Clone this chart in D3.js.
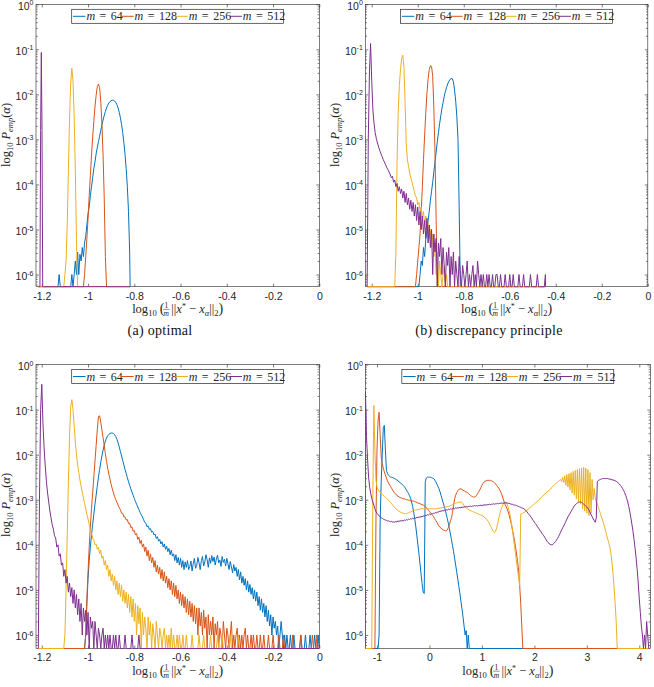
<!DOCTYPE html>
<html>
<head>
<meta charset="utf-8">
<script src="https://cdn.jsdelivr.net/npm/d3@7"></script>
<style>
  body { margin: 0; background: #fff; }
  svg { display: block; }
</style>
</head>
<body>
<svg id="fig" width="654" height="687"></svg>
<script>
// MATLAB default line colours, one per m
const colors = ["#0072BD", "#D95319", "#EDB120", "#7E2F8E"];
const mValues = ["64", "128", "256", "512"];
const xTicksNarrow = [-1.2, -1, -0.8, -0.6, -0.4, -0.2, 0];
const xTicksWide = [-1, 0, 1, 2, 3, 4];
const yExponents = [-6, -5, -4, -3, -2, -1, 0];
const captions = ["(a) optimal", "(b) discrepancy principle"];

// histograms: first bin x0, bin width dx, log10 P per bin (null = empty bin)
// (a) optimal
const a64 = {x0: -1.13, dx: 0.005, v: [null,-6.0,null,null,null,null,null,null,null,null,null,null,-6.0,null,-6.0,-5.7,-6.0,-5.5,-6.0,-5.55,-5.7,-5.4,-5.6,-5.3,-5.15,-4.9,-4.65,-4.5,-4.25,-4.05,-3.85,-3.65,-3.5,-3.32,-3.18,-3.05,-2.93,-2.8,-2.68,-2.57,-2.47,-2.38,-2.3,-2.24,-2.19,-2.16,-2.14,-2.13,-2.13,-2.15,-2.18,-2.23,-2.3,-2.4,-2.52,-2.67,-2.85,-3.07,-3.33,-3.65,-4.05,-4.6,-5.5]};
const a128 = {x0: -1.015, dx: 0.005, v: [-6.0,-5.6,-5.2,-4.75,-4.25,-3.8,-3.35,-2.95,-2.6,-2.28,-2.02,-1.83,-1.77,-1.85,-2.15,-2.65,-3.35,-4.3,-5.6]};
const a256 = {x0: -1.1, dx: 0.005, v: [-6.0,-5.7,-4.9,-3.7,-2.55,-1.75,-1.42,-1.7,-2.5,-3.7,-5.2]};
const a512 = {x0: -1.208, dx: 0.003, v: [null,-2.8,-1.07,-2.8,null]};

// (b) discrepancy principle
const b64 = {x0: -0.99, dx: 0.005, v: [-6.0,-5.7,-5.8,-5.4,-5.6,-5.2,-5.05,-4.8,-4.6,-4.35,-4.15,-3.95,-3.72,-3.5,-3.28,-3.05,-2.85,-2.65,-2.48,-2.32,-2.18,-2.05,-1.94,-1.85,-1.77,-1.71,-1.67,-1.65,-1.65,-1.72,-1.9,-2.15,-2.5,-3.0,-4.5]};
const b128 = {x0: -1.005, dx: 0.005, v: [-6.0,-5.7,-5.4,-5.1,-4.6,-4.05,-3.45,-2.9,-2.4,-1.98,-1.65,-1.45,-1.36,-1.38,-1.6,-2.3,-3.3,-4.8]};
const b256 = {x0: -1.1, dx: 0.005, v: [null,-5.5,-3.5,-2.4,-1.8,-1.45,-1.2,-1.13,-1.4,-2.2,-3.1,-3.45,-3.6,-3.75,-3.85,-3.95,-4.05,-4.15,-4.25,-4.3,-4.45,-4.4,-4.6,-4.5,-4.75,-4.6,-4.9,-4.7,-5.0,-4.85,-5.2,-5.0,-5.4,-5.1,-5.6,-5.3,-6.0,-5.5,null,-5.7,-6.0,null,-6.0,-5.8,null,-6.0]};
const b512 = {x0: -1.215, dx: 0.005, v: [-3.0,-1.5,-0.87,-1.7,-2.35,-2.65,-2.85,-2.98,-3.08,-3.17,
  -3.25,-3.32,-3.38,-3.45,-3.5,-3.56,-3.62,-3.67,-3.72,-3.77,
  -3.85,-3.82,-3.95,-3.9,-4.05,-3.98,-4.15,-4.05,-4.2,-4.1,
  -4.3,-4.15,-4.4,-4.2,-4.45,-4.3,-4.55,-4.35,-4.6,-4.4,
  -4.7,-4.45,-4.8,-4.5,-4.9,-4.6,-5.0,-4.7,-5.1,-4.8,
  -5.2,-4.75,-5.3,-4.9,-5.4,-5.0,-6.0,-5.1,-5.5,-5.2,
  null,-5.3,-5.6,-5.2,-6.0,-5.4,-5.8,null,-5.5,-5.8,
  -5.4,null,-5.6,-6.0,-5.5,null,-5.7,-6.0,null,-5.6,
  -6.0,null,-5.8,-6.0,null,-6.0,-5.7,null,-6.0,null,
  -6.0,-5.8,null,-6.0,null,-5.7,-6.0,null,-6.0,null,
  -6.0,null,null,-6.0,null,-6.0,null,null,-6.0,null,
  null,-6.0,-6.0,null,null,-6.0,null,null,null,-6.0,
  null,null,null,-6.0,null,null,-6.0,null,null,null,
  null,-6.0,null,null,null,-6.0,null,null,null,null,
  null,-6.0,null,null,null,null,null,-6.0,null,null,
  null,null,null,null,-6.0]};

// (c)
const c64 = {x0: -1.01, dx: 0.005, v: [-6.0,-5.3,-4.75,-4.35,-4.05,-3.78,-3.55,-3.32,-3.1,-2.9,
  -2.7,-2.5,-2.33,-2.17,-2.03,-1.9,-1.79,-1.7,-1.63,-1.58,
  -1.55,-1.53,-1.52,-1.52,-1.53,-1.56,-1.6,-1.66,-1.74,-1.83,
  -1.93,-2.03,-2.13,-2.23,-2.33,-2.42,-2.51,-2.6,-2.68,-2.76,
  -2.83,-2.9,-2.97,-3.04,-3.1,-3.16,-3.22,-3.28,-3.33,-3.38,
  -3.44,-3.5,-3.52,-3.6,-3.58,-3.66,-3.64,-3.72,-3.7,-3.78,
  -3.76,-3.86,-3.82,-3.92,-3.88,-3.98,-3.93,-4.05,-3.98,-4.1,
  -4.03,-4.15,-4.08,-4.22,-4.12,-4.25,-4.2,-4.35,-4.22,-4.4,
  -4.28,-4.45,-4.3,-4.5,-4.35,-4.55,-4.38,-4.5,-4.35,-4.55,
  -4.48,-4.36,-4.58,-4.41,-4.3,-4.52,-4.46,-4.28,-4.4,-4.55,
  -4.35,-4.26,-4.47,-4.38,-4.22,-4.33,-4.5,-4.29,-4.41,-4.24,
  -4.37,-4.27,-4.45,-4.31,-4.23,-4.4,-4.34,-4.48,-4.26,-4.39,
  -4.32,-4.47,-4.3,-4.42,-4.55,-4.37,-4.49,-4.62,-4.44,-4.58,
  -4.5,-4.7,-4.55,-4.78,-4.6,-4.85,-4.7,-4.9,-4.75,-5.0,
  -4.8,-5.05,-4.88,-5.1,-4.95,-5.2,-5.0,-5.25,-5.05,-5.35,
  -5.15,-5.45,-5.2,-5.5,-5.3,-5.6,-5.35,-5.7,-5.45,-5.8,
  -5.55,-6.0,-5.6,-5.85,-5.7,-6.0,-5.8,null,-6.0,-5.7,
  -6.0,null,-6.0,null,-6.0,null,null,-6.0,null,null,
  -6.0,null,null,null,null,null,-6.0,null,null,null,
  -6.0,null,null,null,-6.0,null,null,null,-6.0,null,
  null,-6.0]};
const c128 = {x0: -1.01, dx: 0.005, v: [-6.0,-5.2,-4.6,-4.05,-3.6,-3.2,-2.85,-2.5,-2.15,-1.8,
  -1.45,-1.15,-1.14,-1.28,-1.45,-1.62,-1.8,-1.98,-2.15,-2.3,
  -2.43,-2.55,-2.66,-2.76,-2.85,-2.93,-3.0,-3.06,-3.12,-3.18,
  -3.22,-3.3,-3.3,-3.38,-3.38,-3.45,-3.44,-3.53,-3.52,-3.62,
  -3.6,-3.7,-3.68,-3.78,-3.75,-3.88,-3.83,-3.97,-3.9,-4.05,
  -3.98,-4.15,-4.05,-4.25,-4.12,-4.35,-4.2,-4.4,-4.28,-4.5,
  -4.35,-4.6,-4.45,-4.65,-4.5,-4.75,-4.55,-4.8,-4.6,-4.85,
  -4.7,-4.95,-4.75,-5.0,-4.8,-5.1,-4.85,-5.15,-4.9,-5.2,
  -5.0,-5.3,-5.05,-5.35,-5.1,-5.4,-5.15,-5.5,-5.2,-5.55,
  -5.25,-5.6,-5.3,-5.7,-5.35,-5.75,-5.4,-6.0,-5.4,-5.8,
  -5.5,-6.0,-5.45,-5.85,-5.6,null,-5.55,-6.0,-5.7,-6.0,
  -5.6,null,-5.75,-6.0,-5.7,null,-5.85,-6.0,null,-5.7,
  -6.0,null,-5.85,-6.0,null,-6.0,-5.7,null,-6.0,null,
  -6.0,-5.85,null,-6.0,null,-6.0,null,-6.0,-5.85,null,
  -6.0,null,null,-6.0,null,-6.0,null,null,-6.0,null,
  null,-6.0,null,null,-6.0,null,null,null,-6.0,null,
  null,null,-6.0,null,null,null,null,-6.0,null,null,
  null,-6.0,null,null,null,null,null,null,null,-6.0,
  null,null,null,null,null,null,-6.0,null,null,null,
  null,null,null,null,null,null,-6.0,null,null,null,
  -6.0,null,null]};
const c256 = {x0: -1.1, dx: 0.005, v: [-6.0,-5.0,-3.8,-2.6,-1.6,-0.95,-0.78,-1.0,-1.35,-1.72,
  -2.0,-2.22,-2.4,-2.56,-2.7,-2.84,-2.96,-3.08,-3.2,-3.32,
  -3.43,-3.55,-3.68,-3.75,-3.85,-3.9,-4.0,-3.98,-4.1,-4.05,
  -4.2,-4.12,-4.3,-4.25,-4.45,-4.35,-4.55,-4.45,-4.7,-4.55,
  -4.8,-4.65,-4.9,-4.7,-5.0,-4.8,-5.1,-4.85,-5.15,-4.9,
  -5.25,-5.0,-5.3,-5.05,-5.4,-5.1,-5.5,-5.15,-5.6,-5.2,
  -5.7,-5.3,-6.0,-5.35,-5.75,-5.4,null,-5.5,-6.0,-5.6,
  -5.85,null,-5.6,-6.0,-5.7,null,-5.75,-6.0,null,-5.7,
  -6.0,null,-5.85,-6.0,null,-6.0,-5.85,null,-6.0,null,
  -6.0,null,-5.85,null,-6.0,null,null,-6.0,null,-6.0,
  null,null,-6.0,null,null,-6.0,null,null,null,null,
  -6.0,null,null,null,null,null,-6.0,null,null,null,
  -6.0,null,null,null,null,null,-6.0,null,null,null,
  null,null,-6.0,null,null,null,-6.0,null,null,null,
  null,null,null,-6.0,null,null,null,null,null,null,
  -6.0]};
const c512 = {x0: -1.21, dx: 0.005, v: [-3.0,-1.0,-0.44,-1.3,-1.85,-2.25,-2.6,-2.85,-3.05,-3.25,
  -3.4,-3.55,-3.65,-3.8,-3.85,-4.05,-4.0,-4.25,-4.2,-4.45,
  -4.4,-4.7,-4.55,-4.85,-4.7,-5.05,-4.85,-5.15,-4.95,-5.3,
  -5.0,-5.4,-5.1,-5.55,-5.2,-5.7,-5.3,-6.0,-5.4,-5.7,
  -5.45,-6.0,-5.5,null,-5.6,-5.85,-5.7,null,-5.7,-6.0,
  null,-5.85,-6.0,null,-6.0,-5.85,null,-6.0,null,-6.0,
  null,-6.0,null,null,-6.0,null,-6.0,null,null,-6.0,
  null,null,null,null,-6.0,null,null,null,null,null,
  -6.0,null,null,null,null,null,-6.0]};

// (d) wide range
const d64 = {x0: -0.98, dx: 0.02, v: [null,-6.0,-3.5,-2.6,-2.0,-1.4,-1.35,-1.9,-2.35,-2.42,
  -2.46,-2.48,-2.5,-2.5,-2.51,-2.52,-2.53,-2.55,-2.56,-2.58,
  -2.6,-2.62,-2.64,-2.66,-2.68,-2.71,-2.74,-2.78,-2.82,-2.86,
  -2.91,-2.97,-3.05,-3.15,-3.28,-3.43,-3.6,-3.8,-4.0,-4.2,
  -4.42,-4.65,-4.86,-5.05,-5.08,-2.6,-2.52,-2.5,-2.5,-2.5,
  -2.5,-2.51,-2.52,-2.53,-2.56,-2.6,-2.65,-2.7,-2.75,-2.82,
  -2.9,-2.98,-3.06,-3.14,-3.22,-3.32,-3.42,-3.52,-3.64,-3.76,
  -3.89,-4.02,-4.15,-4.3,-4.45,-4.6,-4.76,-4.92,-5.08,-5.25,
  -5.42,-5.6,-5.8,-6.0,-5.9,null,-6.0]};
const d128 = {x0: -1.04, dx: 0.02, v: [null,-3.5,-1.9,-1.25,-1.06,-1.55,-2.05,-2.2,-2.3,-2.38,
  -2.45,-2.52,-2.58,-2.63,-2.67,-2.71,-2.75,-2.79,-2.83,-2.86,
  -2.88,-2.9,-2.92,-2.94,-2.95,-2.96,-2.97,-2.98,-2.98,-2.99,
  -3.0,-3.0,-3.01,-3.01,-3.02,-3.02,-3.03,-3.03,-3.04,-3.05,
  -3.06,-3.07,-3.08,-3.09,-3.1,-3.11,-3.12,-3.13,-3.15,-3.17,
  -3.2,-3.23,-3.26,-3.29,-3.32,-3.35,-3.38,-3.42,-3.46,-3.5,
  -3.54,-3.58,-3.61,-3.63,-3.65,-3.67,-3.68,-3.69,-3.69,-3.67,
  -3.62,-3.55,-3.47,-3.4,-3.28,-3.12,-2.98,-2.9,-2.84,-2.8,
  -2.77,-2.76,-2.76,-2.77,-2.79,-2.8,-2.82,-2.83,-2.84,-2.86,
  -2.88,-2.9,-2.92,-2.93,-2.94,-2.94,-2.93,-2.9,-2.86,-2.82,
  -2.78,-2.73,-2.68,-2.64,-2.61,-2.59,-2.58,-2.57,-2.57,-2.57,
  -2.57,-2.58,-2.59,-2.6,-2.62,-2.65,-2.68,-2.71,-2.74,-2.78,
  -2.83,-2.89,-2.96,-3.03,-3.1,-3.15,-3.2,-3.27,-3.35,-3.44,
  -3.54,-3.65,-3.77,-3.9,-4.04,-4.2,-4.37,-4.58,-4.9,-5.3,
  -5.8]};
const d256 = {x0: -1.1, dx: 0.02, v: [null,-3.0,-0.91,-1.9,-2.55,-2.72,-2.77,-2.81,-2.84,-2.86,
  -2.88,-2.9,-2.93,-2.95,-2.97,-2.99,-3.01,-3.03,-3.06,-3.09,
  -3.12,-3.15,-3.18,-3.2,-3.22,-3.24,-3.26,-3.27,-3.28,-3.29,
  -3.3,-3.31,-3.31,-3.31,-3.3,-3.29,-3.28,-3.27,-3.26,-3.25,
  -3.24,-3.23,-3.23,-3.22,-3.22,-3.21,-3.21,-3.2,-3.2,-3.2,
  -3.2,-3.2,-3.2,-3.2,-3.2,-3.2,-3.2,-3.2,-3.2,-3.2,
  -3.2,-3.2,-3.2,-3.19,-3.19,-3.19,-3.18,-3.18,-3.17,-3.17,
  -3.16,-3.16,-3.15,-3.15,-3.14,-3.13,-3.12,-3.11,-3.1,-3.09,
  -3.08,-3.07,-3.06,-3.06,-3.05,-3.05,-3.06,-3.09,-3.13,-3.16,
  -3.18,-3.2,-3.21,-3.23,-3.24,-3.25,-3.26,-3.27,-3.28,-3.29,
  -3.3,-3.31,-3.32,-3.33,-3.34,-3.35,-3.36,-3.38,-3.4,-3.42,
  -3.45,-3.48,-3.52,-3.57,-3.62,-3.67,-3.71,-3.73,-3.7,-3.63,
  -3.53,-3.42,-3.32,-3.24,-3.17,-3.11,-3.07,-3.05,-3.06,-3.1,
  -3.16,-3.25,-3.36,-3.5,-3.66,-3.84,-4.02,-4.2,-4.38,-4.56,
  -4.74,-4.9,-3.32,-3.31,-3.3,-3.28,-3.27,-3.25,-3.23,-3.21,
  -3.19,-3.17,-3.15,-3.13,-3.11,-3.09,-3.07,-3.05,-3.03,-3.01,
  -2.99,-2.96,-2.94,-2.92,-2.89,-2.87,-2.85,-2.83,-2.81,-2.79,
  -2.77,-2.74,-2.72,-2.69,-2.67,-2.65,-2.63,-2.61,-2.59,-2.57,
  -2.55,-2.6,-2.5,-2.62,-2.47,-2.68,-2.44,-2.72,-2.42,-2.78,
  -2.4,-2.85,-2.37,-2.9,-2.35,-2.98,-2.33,-3.05,-2.31,-3.1,
  -2.3,-3.2,-2.28,-3.25,-2.3,-3.3,-2.33,-3.35,-2.4,-3.3,
  -2.55,-3.0,-2.75,-2.95,-3.05,-3.1,-3.17,-3.24,-3.31,-3.38,
  -3.45,-3.53,-3.61,-3.7,-3.79,-3.88,-3.97,-4.06,-4.2,-4.4,
  -4.65,-4.95,-5.3,-5.7]};
const d512 = {x0: -1.22, dx: 0.02, v: [-0.6,-1.6,-2.1,-2.5,-2.72,-2.86,-2.97,-3.05,-3.12,-3.2,
  -3.26,-3.3,-3.33,-3.36,-3.38,-3.4,-3.41,-3.43,-3.44,-3.45,
  -3.46,-3.47,-3.47,-3.48,-3.49,-3.48,-3.5,-3.49,-3.5,-3.48,
  -3.49,-3.47,-3.48,-3.47,-3.47,-3.46,-3.47,-3.45,-3.46,-3.44,
  -3.45,-3.43,-3.44,-3.42,-3.43,-3.41,-3.42,-3.4,-3.41,-3.39,
  -3.4,-3.38,-3.39,-3.37,-3.38,-3.36,-3.37,-3.35,-3.35,-3.33,
  -3.34,-3.32,-3.33,-3.31,-3.31,-3.3,-3.3,-3.28,-3.29,-3.27,
  -3.27,-3.25,-3.26,-3.24,-3.25,-3.23,-3.24,-3.22,-3.23,-3.21,
  -3.22,-3.2,-3.21,-3.2,-3.19,-3.2,-3.18,-3.19,-3.18,-3.18,
  -3.17,-3.18,-3.16,-3.17,-3.16,-3.16,-3.15,-3.16,-3.15,-3.15,
  -3.14,-3.15,-3.14,-3.14,-3.13,-3.14,-3.13,-3.14,-3.13,-3.13,
  -3.12,-3.13,-3.12,-3.12,-3.11,-3.12,-3.11,-3.11,-3.1,-3.11,
  -3.1,-3.1,-3.09,-3.1,-3.09,-3.09,-3.08,-3.09,-3.08,-3.08,
  -3.07,-3.08,-3.07,-3.07,-3.07,-3.07,-3.08,-3.08,-3.09,-3.1,
  -3.1,-3.11,-3.12,-3.12,-3.13,-3.14,-3.15,-3.16,-3.17,-3.18,
  -3.19,-3.2,-3.22,-3.24,-3.27,-3.3,-3.33,-3.36,-3.39,-3.43,
  -3.46,-3.5,-3.53,-3.56,-3.6,-3.63,-3.67,-3.7,-3.74,-3.77,
  -3.8,-3.84,-3.88,-3.92,-3.95,-3.97,-3.99,-4.0,-4.0,-3.98,
  -3.96,-3.93,-3.9,-3.86,-3.82,-3.77,-3.72,-3.67,-3.62,-3.58,
  -3.53,-3.48,-3.43,-3.38,-3.34,-3.3,-3.26,-3.22,-3.18,-3.14,
  -3.11,-3.09,-3.07,-3.06,-3.05,-3.05,-3.06,-3.08,-3.1,-3.12,
  -3.14,-3.16,-3.19,-3.23,-3.28,-3.33,-3.37,-3.42,-3.46,-3.5,
  -3.4,-2.6,-2.57,-2.56,-2.55,-2.54,-2.53,-2.53,-2.53,-2.53,
  -2.53,-2.53,-2.54,-2.54,-2.55,-2.56,-2.56,-2.57,-2.58,-2.59,
  -2.61,-2.63,-2.65,-2.68,-2.71,-2.75,-2.79,-2.84,-2.9,-2.97,
  -3.05,-3.15,-3.27,-3.4,-3.55,-3.7,-3.88,-4.08,-4.3,-4.55,
  -4.85,-5.2,-5.5,-5.8,-6.0,null,-6.0,null,-5.7,-6.0,
  null]};

const ink = "#262626";
const serif = "'Liberation Serif', 'Times New Roman', serif";
const sans = "'Liberation Sans', Arial, sans-serif";

// layout of the four axes (pixel boxes) and their x spans
const panels = [
  {series: [a64, a128, a256, a512], xDomain: [-1.225, 0], span: [-1.215, -0.818], xTicks: xTicksNarrow,
   left: 36, right: 319.3, top: 4.3, bottom: 286.7, yMin: -6.27, yLabelY: 135, caption: captions[0], capX: 160},
  {series: [b64, b128, b256, b512], xDomain: [-1.228, 0], span: [-1.22, -0.445], xTicks: xTicksNarrow,
   left: 365.3, right: 647.8, top: 4.3, bottom: 286.7, yMin: -6.27, yLabelY: 135, caption: captions[1], capX: 489},
  {series: [c64, c128, c256, c512], xDomain: [-1.225, 0], span: [-1.215, 0], xTicks: xTicksNarrow,
   left: 36, right: 319.3, top: 364.5, bottom: 648.5, yMin: -6.3, yLabelY: 505},
  {series: [d64, d128, d256, d512], xDomain: [-1.223, 4.21], span: [-1.225, 4.2], xTicks: xTicksWide,
   left: 365.3, right: 650.3, top: 364.5, bottom: 648.5, yMin: -6.3, yLabelY: 505}
];

const svg = d3.select("#fig");
svg.append("rect").attr("width", 654).attr("height", 687).attr("fill", "#fff");

function binPoints(s, span) {
  const pts = s.v.map((v, i) => [s.x0 + i * s.dx, v]);
  const first = pts[0][0], last = pts[pts.length - 1][0];
  pts.unshift([Math.max(span[0], first - s.dx), null]);
  pts.unshift([span[0], null]);
  pts.push([Math.min(span[1], last + s.dx), null]);
  pts.push([span[1], null]);
  return pts;
}

function styleAxis(g) {
  g.select(".domain").remove();
  g.style("color", ink).attr("font-family", sans).attr("font-size", 10.5);
  g.selectAll(".tick line").attr("stroke-width", 0.6);
}

function yLabel(g, x, cy) {
  const t = g.append("text")
    .attr("transform", `translate(${x},${cy}) rotate(-90)`)
    .attr("text-anchor", "middle")
    .attr("font-family", serif).attr("font-size", 12.5).attr("fill", ink);
  t.append("tspan").text("log");
  t.append("tspan").attr("font-size", 8.5).attr("dy", 3).text("10");
  t.append("tspan").attr("dy", -3).attr("dx", 3).attr("font-style", "italic").text("P");
  t.append("tspan").attr("font-size", 8.5).attr("font-style", "italic").attr("dy", 3).text("emp");
  t.append("tspan").attr("dy", -3).text("(");
  t.append("tspan").attr("font-style", "italic").text("α");
  t.append("tspan").text(")");
}

function xLabel(g, cx, baseline) {
  const lab = g.append("g").attr("font-family", serif).attr("fill", ink);
  const t1 = lab.append("text").attr("y", baseline).attr("font-size", 12.5);
  t1.append("tspan").text("log");
  t1.append("tspan").attr("font-size", 8.5).attr("dy", 3).text("10");
  t1.append("tspan").attr("dy", -3).attr("dx", 3).attr("font-size", 14).text("(");
  const fx = t1.node().getComputedTextLength() + 5;
  lab.append("text").attr("x", fx).attr("y", baseline - 5).attr("font-size", 7.5)
    .attr("text-anchor", "middle").text("1");
  lab.append("line").attr("x1", fx - 3.2).attr("x2", fx + 3.2)
    .attr("y1", baseline - 3.8).attr("y2", baseline - 3.8)
    .attr("stroke", ink).attr("stroke-width", 0.5);
  lab.append("text").attr("x", fx).attr("y", baseline + 2.5).attr("font-size", 7.5)
    .attr("font-style", "italic").attr("text-anchor", "middle").text("m");
  const x2 = fx + 5;
  const t2 = lab.append("text").attr("x", x2).attr("y", baseline).attr("font-size", 12.5);
  t2.append("tspan").text("||");
  t2.append("tspan").attr("font-style", "italic").text("x");
  t2.append("tspan").attr("font-size", 8).attr("dy", -4.5).text("*");
  t2.append("tspan").attr("dy", 4.5).text(" \u2212 ");
  t2.append("tspan").attr("font-style", "italic").text("x");
  t2.append("tspan").attr("font-style", "italic").attr("font-size", 8.5).attr("dy", 2.5).text("α");
  t2.append("tspan").attr("dy", -2.5).text("||");
  t2.append("tspan").attr("font-size", 8.5).attr("dy", 2.5).text("2");
  t2.append("tspan").attr("dy", -2.5).attr("font-size", 14).text(")");
  const total = x2 + t2.node().getComputedTextLength();
  lab.attr("transform", `translate(${cx - total / 2},0)`);
}

function legend(g, cx, top) {
  const lg = g.append("g").attr("font-family", serif).attr("font-size", 12).attr("fill", ink);
  const box = lg.append("rect").attr("fill", "#fff").attr("stroke", ink).attr("stroke-width", 0.7);
  let x = 1.3;
  mValues.forEach((m, i) => {
    lg.append("line").attr("x1", x).attr("x2", x + 12.5).attr("y1", 7).attr("y2", 7)
      .attr("stroke", colors[i]).attr("stroke-width", 1);
    const t = lg.append("text").attr("x", x + 13.4).attr("y", 11);
    t.append("tspan").attr("font-style", "italic").text("m");
    t.append("tspan").attr("dx", 1.5).text(" =");
    t.append("tspan").attr("dx", 1.5).text(" " + m);
    x += 13.4 + t.node().getComputedTextLength() + 1.3;
  });
  box.attr("width", x).attr("height", 14);
  lg.attr("transform", `translate(${cx - x / 2},${top})`);
}

panels.forEach((p, k) => {
  const g = svg.append("g");
  const x = d3.scaleLinear().domain(p.xDomain).range([p.left, p.right]);
  const y = d3.scaleLog().domain([Math.pow(10, p.yMin), 1]).range([p.bottom, p.top]).clamp(true);
  const majors = yExponents.map(e => Math.pow(10, e));
  const minors = [];
  d3.range(-7, 0).forEach(e => d3.range(2, 10).forEach(m => {
    const v = m * Math.pow(10, e);
    if (v > y.domain()[0] && v < 1) minors.push(v);
  }));

  g.append("rect").attr("x", p.left).attr("y", p.top)
    .attr("width", p.right - p.left).attr("height", p.bottom - p.top)
    .attr("fill", "none").attr("stroke", ink).attr("stroke-width", 0.6);

  g.append("g").attr("transform", `translate(0,${p.bottom})`)
    .call(d3.axisBottom(x).tickValues(p.xTicks).tickSizeInner(-3).tickSizeOuter(0)
      .tickPadding(5.5).tickFormat(d => String(d)))
    .call(styleAxis);
  g.append("g").attr("transform", `translate(0,${p.top})`)
    .call(d3.axisTop(x).tickValues(p.xTicks).tickSizeInner(-3).tickSizeOuter(0).tickFormat(""))
    .call(styleAxis);

  const gy = g.append("g").attr("transform", `translate(${p.left},0)`)
    .call(d3.axisLeft(y).tickValues(majors).tickSizeInner(-3).tickSizeOuter(0).tickPadding(2.5))
    .call(styleAxis);
  gy.selectAll(".tick text").attr("dy", "0.45em").each(function (d) {
    const t = d3.select(this).text("");
    t.append("tspan").text("10");
    t.append("tspan").attr("font-size", 7).attr("dy", "-0.6em").text(Math.round(Math.log10(d)));
  });
  g.append("g").attr("transform", `translate(${p.left},0)`)
    .call(d3.axisLeft(y).tickValues(minors).tickSizeInner(-1.7).tickSizeOuter(0).tickFormat(""))
    .call(styleAxis);
  g.append("g").attr("transform", `translate(${p.right},0)`)
    .call(d3.axisRight(y).tickValues(majors).tickSizeInner(-3).tickSizeOuter(0).tickFormat(""))
    .call(styleAxis);
  g.append("g").attr("transform", `translate(${p.right},0)`)
    .call(d3.axisRight(y).tickValues(minors).tickSizeInner(-1.7).tickSizeOuter(0).tickFormat(""))
    .call(styleAxis);

  const clipId = "clip" + k;
  svg.append("clipPath").attr("id", clipId).append("rect")
    .attr("x", p.left).attr("y", p.top - 1)
    .attr("width", p.right - p.left + 0.5).attr("height", p.bottom - p.top + 2);

  const line = d3.line()
    .x(d => x(d[0]))
    .y(d => d[1] == null ? p.bottom : y(Math.pow(10, d[1])));

  p.series.forEach((s, i) => {
    g.append("path").datum(binPoints(s, p.span))
      .attr("clip-path", `url(#${clipId})`)
      .attr("fill", "none").attr("stroke", colors[i]).attr("stroke-width", 1)
      .attr("stroke-linejoin", "round")
      .attr("d", line);
  });

  legend(g, (p.left + p.right) / 2, p.top + 5);
  yLabel(g, p.left - 26, p.yLabelY);
  xLabel(g, (p.left + p.right) / 2, p.bottom + 26.5);

  if (p.caption) {
    g.append("text").attr("x", p.capX).attr("y", 335).attr("text-anchor", "middle")
      .attr("font-family", serif).attr("font-size", 14).attr("letter-spacing", 0.3)
      .attr("fill", "#111").text(p.caption);
  }
});
</script>
</body>
</html>
